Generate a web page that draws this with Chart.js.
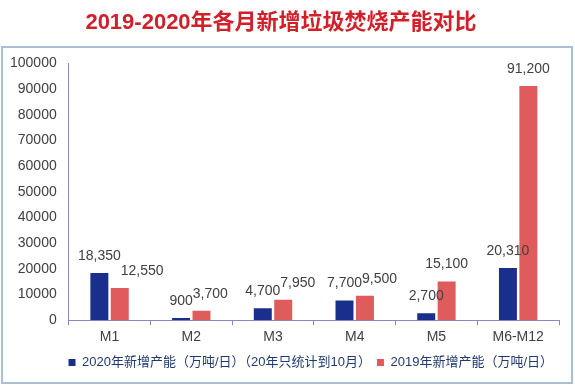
<!DOCTYPE html>
<html>
<head>
<meta charset="utf-8">
<script src="https://cdn.jsdelivr.net/npm/chart.js@4"></script>
<style>
  html, body { margin: 0; padding: 0; background: #fff; }
  #wrap { width: 575px; height: 385px; }
</style>
</head>
<body>
<div id="wrap"><canvas id="chart" width="575" height="385"></canvas></div>
<script>
const categories = ['M1', 'M2', 'M3', 'M4', 'M5', 'M6-M12'];
const values2020 = [18350, 900, 4700, 7700, 2700, 20310];
const values2019 = [12550, 3700, 7950, 9500, 15100, 91200];
const label2020 = '2020年新增产能（万吨/日）（20年只统计到10月）';
const label2019 = '2019年新增产能（万吨/日）';

const fontFamily = '"Liberation Sans", Arial, "Noto Sans CJK SC", sans-serif';

// frame around the plot + legend
const framePlugin = {
    id: 'frame',
    beforeDraw(chart) {
        const ctx = chart.ctx;
        ctx.save();
        ctx.strokeStyle = '#a9bfd2';
        ctx.lineWidth = 2;
        ctx.strokeRect(2, 47, 570, 336);
        ctx.restore();
    }
};

// value labels above bars; the 2019 label moves right when it would hit the 2020 one
const valueLabels = {
    id: 'valueLabels',
    afterDatasetsDraw(chart) {
        const ctx = chart.ctx;
        ctx.save();
        ctx.font = '14px ' + fontFamily;
        ctx.fillStyle = '#404040';
        ctx.textAlign = 'center';
        ctx.textBaseline = 'middle';
        const blue = chart.getDatasetMeta(0).data;
        const red = chart.getDatasetMeta(1).data;
        blue.forEach((bar, j) => {
            const t1 = values2020[j].toLocaleString('en-US');
            const t2 = values2019[j].toLocaleString('en-US');
            const w1 = ctx.measureText(t1).width;
            const w2 = ctx.measureText(t2).width;
            const y1 = bar.y - 17;
            const y2 = red[j].y - 17;
            let x2 = red[j].x;
            const blueRight = bar.x + w1 / 2;
            if (Math.abs(y1 - y2) < 18 && x2 - w2 / 2 < blueRight) {
                x2 = blueRight + w2 / 2;
            }
            ctx.fillText(t1, bar.x, y1);
            ctx.fillText(t2, x2, y2);
        });
        ctx.restore();
    }
};

new Chart(document.getElementById('chart').getContext('2d'), {
    type: 'bar',
    data: {
        labels: categories,
        datasets: [
            { label: label2020, data: values2020, backgroundColor: '#1a2f8c', categoryPercentage: 0.5, barPercentage: 0.88 },
            { label: label2019, data: values2019, backgroundColor: '#e05b5b', categoryPercentage: 0.5, barPercentage: 0.88 }
        ]
    },
    options: {
        responsive: false,
        animation: false,
        layout: { padding: { left: 3, right: 16, top: 4, bottom: 6 } },
        scales: {
            y: {
                min: 0,
                max: 100000,
                ticks: {
                    stepSize: 10000,
                    color: '#404040',
                    font: { size: 14, family: fontFamily },
                    padding: 7,
                    callback: v => String(v)
                },
                grid: { display: false, drawTicks: true, tickLength: 5, color: '#8a87c0' },
                border: { display: true, color: '#8a87c0', width: 1 }
            },
            x: {
                ticks: { color: '#404040', font: { size: 14, family: fontFamily }, padding: 4 },
                grid: { display: true, drawOnChartArea: false, offset: true, tickLength: 5, color: '#8a87c0' },
                border: { display: true, color: '#8a87c0', width: 1 }
            }
        },
        plugins: {
            title: {
                display: true,
                text: '2019-2020年各月新增垃圾焚烧产能对比',
                color: '#d0202a',
                font: { size: 22, weight: 'bold', family: fontFamily },
                padding: { top: 6, bottom: 27 }
            },
            legend: {
                position: 'bottom',
                align: 'end',
                labels: {
                    boxWidth: 7,
                    boxHeight: 7,
                    padding: 6,
                    color: '#1f3a6e',
                    font: { size: 13, family: fontFamily }
                }
            },
            tooltip: { enabled: false }
        }
    },
    plugins: [framePlugin, valueLabels]
});
</script>
</body>
</html>
